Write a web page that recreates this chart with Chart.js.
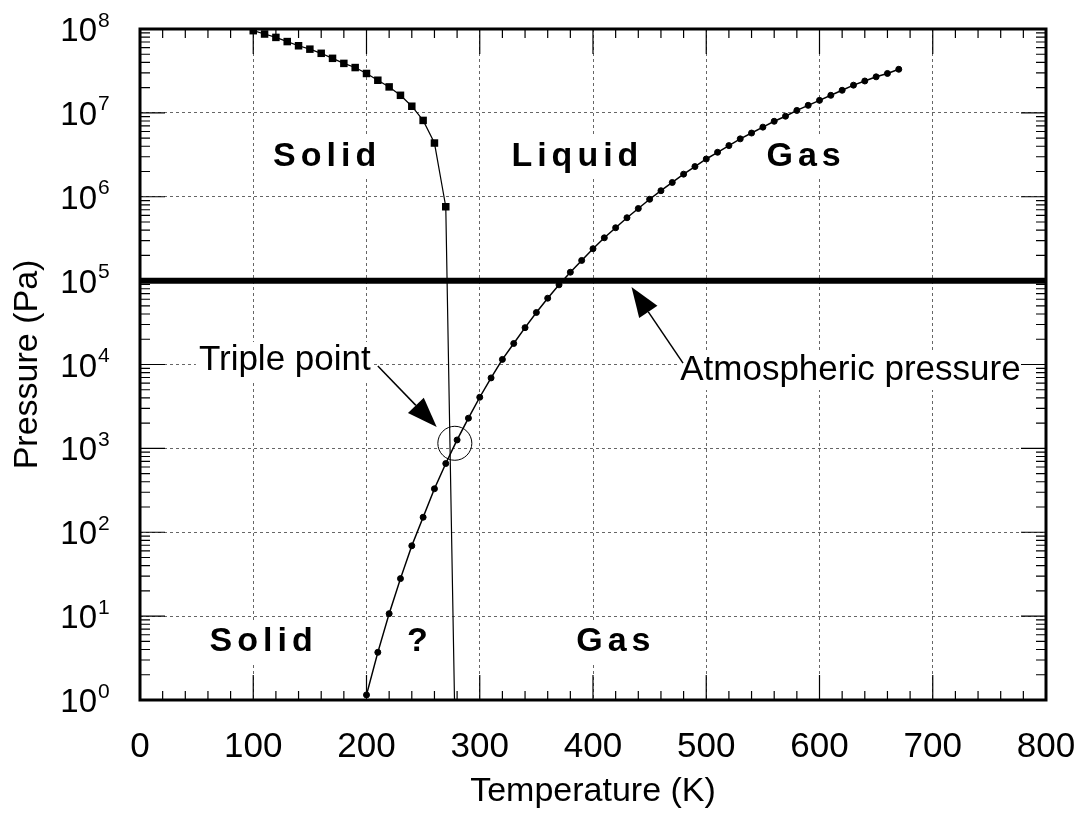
<!DOCTYPE html>
<html>
<head>
<meta charset="utf-8">
<title>Phase diagram of water</title>
<script src="https://cdn.jsdelivr.net/npm/chart.js@4.4.1/dist/chart.umd.min.js"></script>
<style>
  html, body { margin: 0; padding: 0; background: #fff; }
  #wrap { width: 1091px; height: 814px; }
</style>
</head>
<body>
<div id="wrap"><canvas id="phase"></canvas></div>
<script>
// melting curve (solid / liquid), square markers
const meltT = [100, 110, 120, 130, 140, 150, 160, 170, 180, 190, 200, 210, 220, 230, 240, 250, 260, 270, 277.7];
const meltP = [9.55e7, 8.71e7, 7.94e7, 7.08e7, 6.31e7, 5.75e7, 5.13e7, 4.47e7, 3.89e7, 3.47e7,
               2.95e7, 2.45e7, 2.04e7, 1.62e7, 1.2e7, 8.13e6, 4.37e6, 7.6e5, 1];

// vapour pressure curve, round markers
const vapT = [200, 210, 220, 230, 240, 250, 260, 270, 280, 290, 300, 310, 320, 330, 340, 350,
              360, 370, 380, 390, 400, 410, 420, 430, 440, 450, 460, 470, 480, 490, 500, 510,
              520, 530, 540, 550, 560, 570, 580, 590, 600, 610, 620, 630, 640, 650, 660, 670];
const vapP = [1.15, 3.7, 10.7, 28, 69, 151, 330, 660, 1260, 2290, 4070, 6920, 11500, 17800, 27500, 41700,
              61700, 89100, 126000, 174000, 240000, 324000, 427000, 562000, 724000, 933000, 1.18e6, 1.48e6, 1.86e6, 2.29e6, 2.82e6, 3.39e6,
              4.07e6, 4.9e6, 5.75e6, 6.76e6, 7.94e6, 9.12e6, 1.07e7, 1.23e7, 1.41e7, 1.62e7, 1.86e7, 2.14e7, 2.4e7, 2.69e7, 2.95e7, 3.31e7];

// atmospheric pressure line
const atmT = [0, 800];
const atmP = [1e5, 1e5];

// circle around the triple point
const tripleT = [278];
const tripleP = [1150];

const xTicks = [0, 100, 200, 300, 400, 500, 600, 700, 800];
const yTicks = [1, 10, 100, 1e3, 1e4, 1e5, 1e6, 1e7, 1e8];
const supDigits = ['0', '1', '2', '3', '4', '5', '6', '7', '8'];

const FONT = '"Liberation Sans", Arial, Helvetica, sans-serif';

const pts = (xs, ys) => xs.map((t, i) => ({ x: t, y: ys[i] }));

const regionLabels = [
  { text: 'Solid', t: 163, p: 3.0e6 },
  { text: 'Liquid', t: 384, p: 3.0e6 },
  { text: 'Gas', t: 586, p: 3.0e6 },
  { text: 'Solid', t: 107, p: 4.9 },
  { text: '?', t: 245, p: 4.9 },
  { text: 'Gas', t: 418, p: 4.9 }
];

const notes = [
  { text: 'Triple point', t: 52, p: 8600, tail: [210, 9600], tip: [262, 1800] },
  { text: 'Atmospheric pressure', t: 477, p: 6530, tail: [479.5, 10400], tip: [434, 84000] }
];

function arrow(ctx, x0, y0, x1, y1) {
  const ang = Math.atan2(y1 - y0, x1 - x0);
  const len = 30, half = 11;
  const bx = x1 - len * Math.cos(ang), by = y1 - len * Math.sin(ang);
  ctx.beginPath();
  ctx.moveTo(x0, y0);
  ctx.lineTo(bx, by);
  ctx.lineWidth = 1.5;
  ctx.stroke();
  ctx.beginPath();
  ctx.moveTo(x1, y1);
  ctx.lineTo(bx + half * Math.sin(ang), by - half * Math.cos(ang));
  ctx.lineTo(bx - half * Math.sin(ang), by + half * Math.cos(ang));
  ctx.closePath();
  ctx.fill();
}

const decor = {
  id: 'decor',
  beforeDatasetsDraw(chart) {
    const { ctx, scales: { x, y } } = chart;
    ctx.save();
    // region names, bold and spaced out, on white
    ctx.font = 'bold 34px ' + FONT;
    ctx.letterSpacing = '5px';
    ctx.textAlign = 'center';
    ctx.textBaseline = 'middle';
    regionLabels.forEach(l => {
      const px = x.getPixelForValue(l.t), py = y.getPixelForValue(l.p);
      const w = ctx.measureText(l.text).width;
      ctx.fillStyle = '#fff';
      ctx.fillRect(px - w / 2 - 6, py - 20, w + 12, 40);
      ctx.fillStyle = '#000';
      ctx.fillText(l.text, px + 2.5, py);
    });
    // callout texts
    ctx.letterSpacing = '0px';
    ctx.font = '35px ' + FONT;
    ctx.textAlign = 'left';
    ctx.textBaseline = 'alphabetic';
    notes.forEach(n => {
      const px = x.getPixelForValue(n.t), py = y.getPixelForValue(n.p);
      const w = ctx.measureText(n.text).width;
      ctx.fillStyle = '#fff';
      ctx.fillRect(px - 3, py - 28, w + 4, 38);
      ctx.fillStyle = '#000';
      ctx.fillText(n.text, px, py);
    });
    ctx.restore();
  },
  afterDatasetsDraw(chart) {
    const { ctx, chartArea: a, scales: { x, y } } = chart;
    ctx.save();
    ctx.strokeStyle = '#000';
    ctx.fillStyle = '#000';

    // arrows
    notes.forEach(n => {
      arrow(ctx, x.getPixelForValue(n.tail[0]), y.getPixelForValue(n.tail[1]),
                 x.getPixelForValue(n.tip[0]), y.getPixelForValue(n.tip[1]));
    });

    // inward ticks on all four sides
    ctx.lineWidth = 1.2;
    ctx.beginPath();
    for (let t = 0; t <= 800; t += 20) {
      const px = x.getPixelForValue(t);
      const len = t % 100 === 0 ? 25 : 9;
      ctx.moveTo(px, a.bottom); ctx.lineTo(px, a.bottom - len);
      ctx.moveTo(px, a.top); ctx.lineTo(px, a.top + len);
    }
    for (let d = 0; d < 8; d++) {
      for (let m = 1; m < 10; m++) {
        const py = y.getPixelForValue(m * Math.pow(10, d));
        const len = m === 1 ? 25 : 10;
        ctx.moveTo(a.left, py); ctx.lineTo(a.left + len, py);
        ctx.moveTo(a.right, py); ctx.lineTo(a.right - len, py);
      }
    }
    ctx.stroke();

    // frame
    ctx.lineWidth = 3;
    ctx.strokeRect(a.left, a.top, a.right - a.left, a.bottom - a.top);

    // y tick labels as 10 with a raised exponent
    yTicks.forEach((v, i) => {
      const py = y.getPixelForValue(v);
      ctx.font = '33px ' + FONT;
      ctx.textAlign = 'right';
      ctx.textBaseline = 'alphabetic';
      ctx.fillText('10', 97, py + 12);
      ctx.font = '21px ' + FONT;
      ctx.textAlign = 'left';
      ctx.fillText(supDigits[i], 98, py - 2.5);
    });
    ctx.restore();
  }
};

new Chart(document.getElementById('phase'), {
  type: 'scatter',
  data: {
    datasets: [
      {
        label: 'Atmospheric pressure',
        data: pts(atmT, atmP),
        showLine: true,
        borderColor: '#000',
        borderWidth: 6,
        pointRadius: 0
      },
      {
        label: 'Melting curve',
        data: pts(meltT, meltP),
        showLine: true,
        borderColor: '#000',
        borderWidth: 1.2,
        pointStyle: 'rect',
        pointRadius: meltT.map((t, i) => i === meltT.length - 1 ? 0 : 5.3),
        pointBackgroundColor: '#000',
        pointBorderWidth: 0
      },
      {
        label: 'Vapour pressure',
        data: pts(vapT, vapP),
        showLine: true,
        borderColor: '#000',
        borderWidth: 1.5,
        pointStyle: 'circle',
        pointRadius: 3,
        pointBackgroundColor: '#000',
        pointBorderWidth: 1
      },
      {
        label: 'Triple point',
        data: pts(tripleT, tripleP),
        showLine: false,
        pointStyle: 'circle',
        pointRadius: 17,
        pointBackgroundColor: 'rgba(0,0,0,0)',
        pointBorderColor: '#000',
        pointBorderWidth: 1
      }
    ]
  },
  options: {
    responsive: true,
    maintainAspectRatio: false,
    animation: false,
    layout: { padding: { top: 29, right: 45, left: 0, bottom: 0 } },
    plugins: { legend: { display: false }, tooltip: { enabled: false } },
    scales: {
      x: {
        type: 'linear',
        min: 0,
        max: 800,
        afterBuildTicks: s => { s.ticks = xTicks.map(v => ({ value: v })); },
        afterFit: s => { s.height = 114; s.paddingLeft = 0; s.paddingRight = 0; },
        ticks: { color: '#000', font: { family: FONT, size: 35 }, padding: 26 },
        grid: { color: '#666', lineWidth: 1, drawTicks: false },
        border: { display: false, dash: [3, 3] },
        title: {
          display: true,
          text: 'Temperature (K)',
          color: '#000',
          font: { family: FONT, size: 34 },
          padding: { top: 0, bottom: 2 }
        }
      },
      y: {
        type: 'logarithmic',
        min: 1,
        max: 1e8,
        afterBuildTicks: s => { s.ticks = yTicks.map(v => ({ value: v })); },
        afterFit: s => { s.width = 140; s.paddingTop = 0; s.paddingBottom = 0; },
        ticks: { display: false },
        grid: { color: '#666', lineWidth: 1, drawTicks: false },
        border: { display: false, dash: [3, 3] },
        title: {
          display: true,
          text: 'Pressure (Pa)',
          color: '#000',
          font: { family: FONT, size: 34 },
          padding: { top: 7, bottom: 0 }
        }
      }
    }
  },
  plugins: [decor]
});
</script>
</body>
</html>
